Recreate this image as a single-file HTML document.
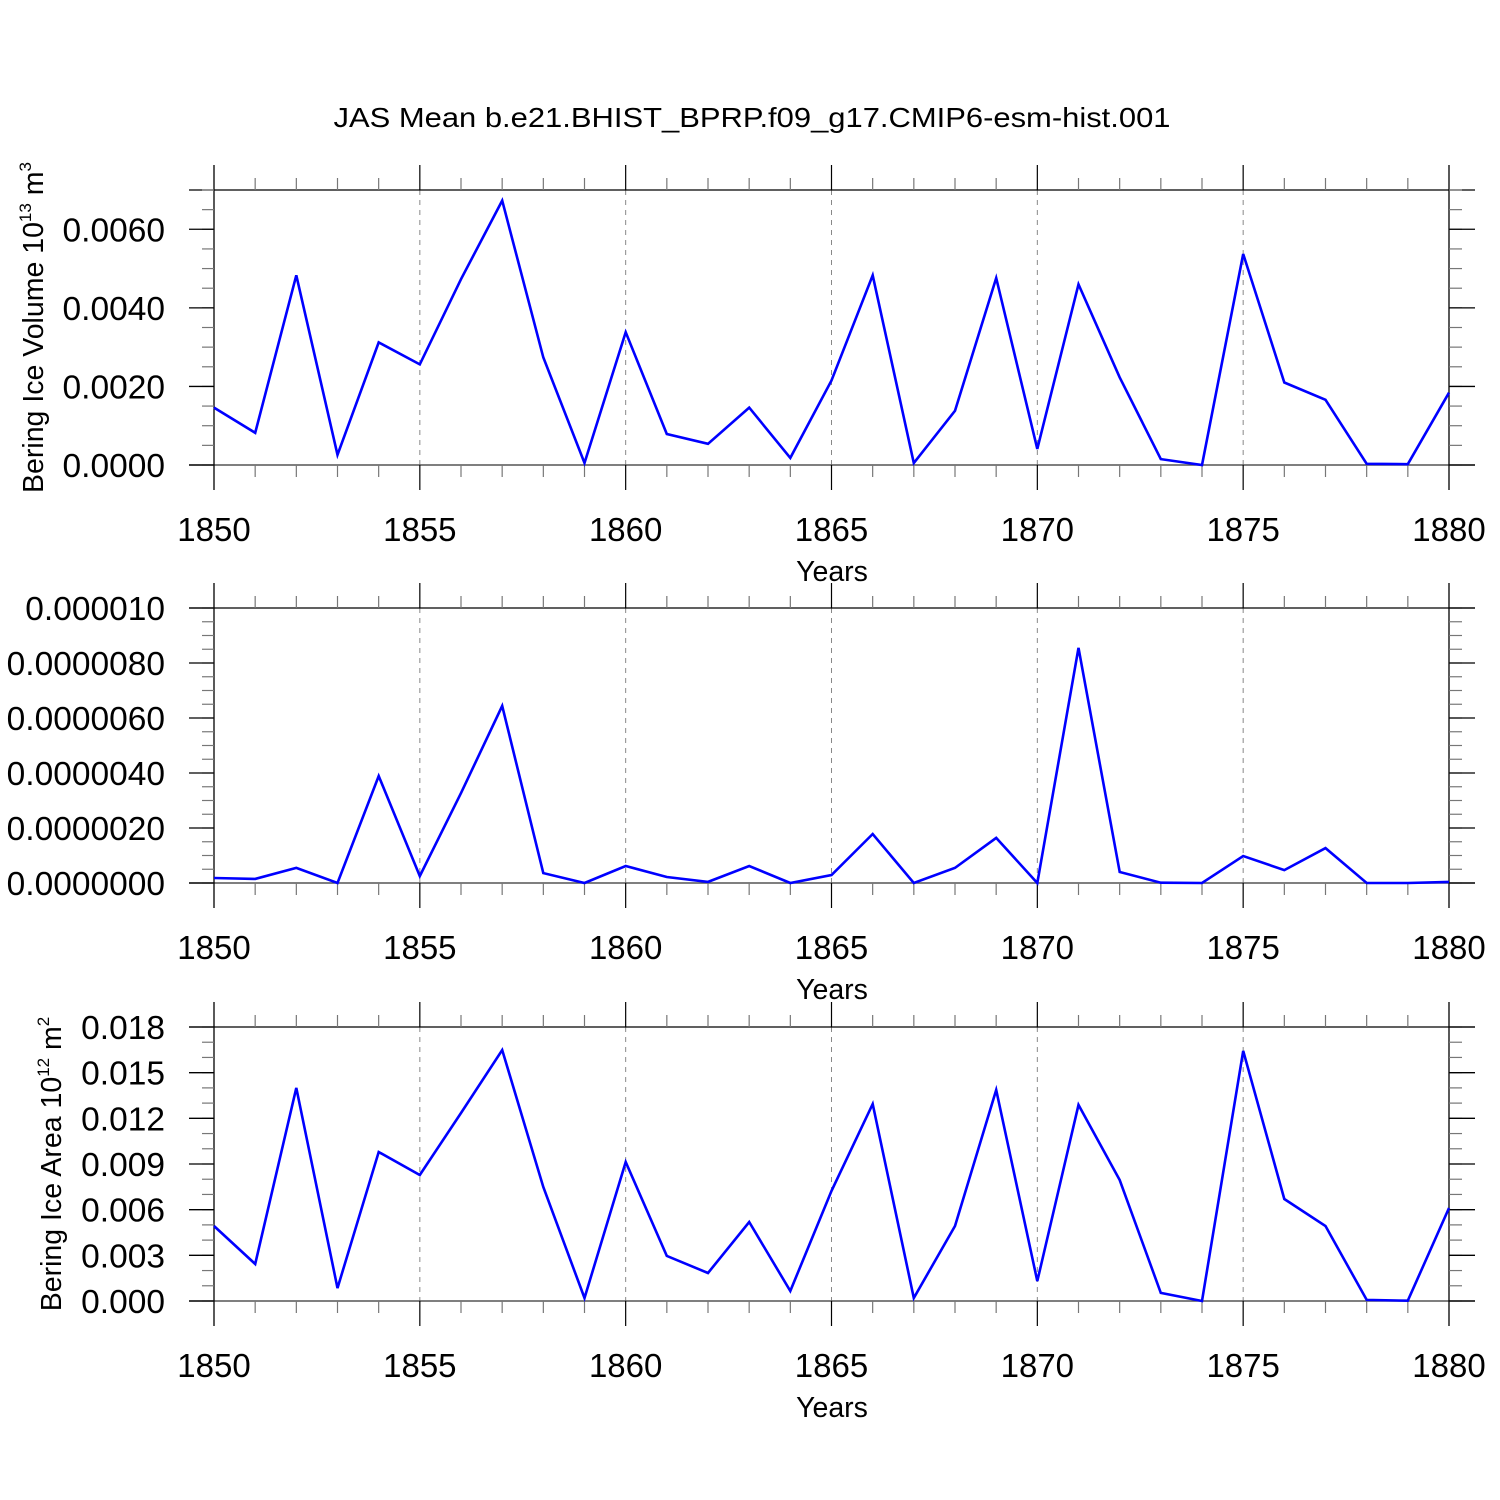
<!DOCTYPE html>
<html><head><meta charset="utf-8"><style>
html,body{margin:0;padding:0;background:#fff;}
svg{display:block;font-family:"Liberation Sans",Arial,sans-serif;}
</style></head><body>
<svg id="chart" width="1500" height="1500" viewBox="0 0 1500 1500" xmlns="http://www.w3.org/2000/svg">
<rect x="0" y="0" width="1500" height="1500" fill="#fff"/>
<text x="752" y="127" font-size="28" text-anchor="middle" textLength="837" lengthAdjust="spacingAndGlyphs">JAS Mean b.e21.BHIST_BPRP.f09_g17.CMIP6-esm-hist.001</text>
</svg>
<script>
const years = [1850,1851,1852,1853,1854,1855,1856,1857,1858,1859,1860,1861,1862,1863,1864,1865,1866,1867,1868,1869,1870,1871,1872,1873,1874,1875,1876,1877,1878,1879,1880];
const volumeValues = [0.00146,0.00082,0.00483,0.00026,0.00312,0.00256,0.00473,0.00673,0.00274,0.00005,0.00338,0.00079,0.00054,0.00146,0.00018,0.00215,0.00483,0.00005,0.00138,0.00476,0.00041,0.00460,0.00223,0.00015,0.00000,0.00537,0.00210,0.00166,0.00003,0.00002,0.00184];
const thicknessValues = [0.18e-6,0.15e-6,0.55e-6,0,3.89e-6,0.25e-6,3.27e-6,6.44e-6,0.36e-6,0,0.62e-6,0.22e-6,0.04e-6,0.62e-6,0,0.29e-6,1.78e-6,0,0.55e-6,1.64e-6,0,8.55e-6,0.40e-6,0.01e-6,0,0.98e-6,0.47e-6,1.27e-6,0,0,0.04e-6];
const areaValues = [0.00493,0.00243,0.0140,0.00085,0.00979,0.00828,0.01235,0.01649,0.00749,0.00020,0.00913,0.00296,0.00184,0.00519,0.00066,0.00723,0.01294,0.00020,0.00493,0.01386,0.00131,0.01288,0.00795,0.00053,0.0,0.01643,0.0067,0.00493,0.00007,0.00002,0.00611];
const xTickLabels = ["1850","1855","1860","1865","1870","1875","1880"];
const volTicks = [0,0.002,0.004,0.006];
const volTickLabels = ["0.0000","0.0020","0.0040","0.0060"];
const thkTicks = [0,2e-6,4e-6,6e-6,8e-6,10e-6];
const thkTickLabels = ["0.0000000","0.0000020","0.0000040","0.0000060","0.0000080","0.000010"];
const areaTicks = [0,0.003,0.006,0.009,0.012,0.015,0.018];
const areaTickLabels = ["0.000","0.003","0.006","0.009","0.012","0.015","0.018"];

const NS="http://www.w3.org/2000/svg";
const svg=document.getElementById('chart');
const X0=214,X1=1449,XMIN=1850,XMAX=1880;
function xs(v){return X0+(v-XMIN)/(XMAX-XMIN)*(X1-X0);}
function mk(tag,attrs,parent){const e=document.createElementNS(NS,tag);for(const k in attrs)e.setAttribute(k,attrs[k]);(parent||svg).appendChild(e);return e;}
function line(g,x1,y1,x2,y2,col,w,dash){const l=mk('line',{x1:x1,y1:y1,x2:x2,y2:y2,stroke:col||'#000','stroke-width':w||1.3},g);if(dash)l.setAttribute('stroke-dasharray',dash);return l;}

function panel(name,top,bottom,ymax,vals,ticks,labels,minorStep,title){
  const g=mk('g',{});
  
  
  const ys=v=>bottom-(v/ymax)*(bottom-top);
  for(let yr=1855;yr<=1875;yr+=5){
    const gl=line(g,xs(yr),top,xs(yr),bottom,'#888',1,'5,5');
    
    
  }
  line(g,189,top,1475,top,'#000',1.3);
  line(g,189,bottom,1475,bottom,'#555',1.6);
  line(g,X0,top-25,X0,bottom+25,'#000',1.3);
  line(g,X1,top-25,X1,bottom+25,'#000',1.3);
  for(let yr=XMIN;yr<=XMAX;yr++){
    const x=xs(yr),major=(yr%5===0);
    if(yr===XMIN||yr===XMAX)continue;
    line(g,x,top-(major?25:12),x,top,major?'#000':'#777',1.2);
    line(g,x,bottom,x,bottom+(major?25:12),major?'#000':'#777',1.2);
  }
  xTickLabels.forEach(l=>{
    const t=mk('text',{x:xs(+l),y:bottom+76,'font-size':33,'text-anchor':'middle'},g);
    t.textContent=l;
    
    
  });
  const xt=mk('text',{x:832,y:bottom+116,'font-size':28.5,'text-anchor':'middle'},g);
  xt.textContent='Years';
  
  
  for(let v=0;v<=ymax*1.0001;v+=minorStep){
    const y=ys(v);
    line(g,202,y,X0,y,'#777',1.2);
    line(g,X1,y,1462,y,'#777',1.2);
  }
  ticks.forEach((v,i)=>{
    const y=ys(v);
    line(g,189,y,X0,y,'#000',1.3);
    line(g,X1,y,1475,y,'#000',1.3);
    const t=mk('text',{x:165,y:y+12,'font-size':33.5,'text-anchor':'end'},g);
    t.textContent=labels[i];
    
    
  });
  const pts=vals.map((v,i)=>xs(years[i]).toFixed(1)+','+ys(v).toFixed(1)).join(' ');
  const pl=mk('polyline',{points:pts,fill:'none',stroke:'#0000ff','stroke-width':2.6,'stroke-linejoin':'miter'},g);
  
  
  if(title){
    const cx=title.x,cy=(top+bottom)/2;
    const t=mk('text',{x:cx,y:cy,'font-size':28.5,'text-anchor':'middle',transform:'rotate(-90 '+cx+' '+cy+')'},g);
    
    
    t.appendChild(document.createTextNode(title.text+' 10'));
    const s=mk('tspan',{'font-size':17,dy:-12},t);s.textContent=title.exp;
    const s2=mk('tspan',{dy:12},t);s2.textContent=' m';
    const s3=mk('tspan',{'font-size':17,dy:-12},t);s3.textContent=title.mexp;
  }
}
panel('ice-volume',190,465,0.0070,volumeValues,volTicks,volTickLabels,0.0005,{x:43,text:'Bering Ice Volume',exp:'13',mexp:'3'});
panel('ice-thickness',608,883,10e-6,thicknessValues,thkTicks,thkTickLabels,0.5e-6,null);
panel('ice-area',1027,1301,0.018,areaValues,areaTicks,areaTickLabels,0.001,{x:61,text:'Bering Ice Area',exp:'12',mexp:'2'});
</script>
</body></html>
